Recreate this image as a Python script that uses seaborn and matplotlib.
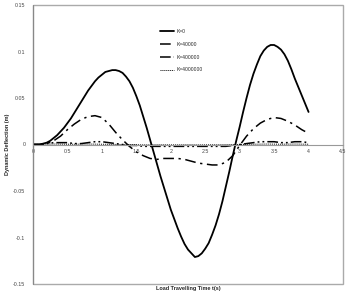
import matplotlib
matplotlib.use("Agg")
import matplotlib.pyplot as plt
import numpy as np
import pandas as pd
import seaborn as sns
from matplotlib.patches import Rectangle

# K=0 is read at a finer step (it has the big swings)
t_k0 = [0.00, 0.05, 0.10, 0.15, 0.20, 0.25, 0.30, 0.35, 0.40, 0.45,
        0.50, 0.55, 0.60, 0.65, 0.70, 0.75, 0.80, 0.85, 0.90, 0.95,
        1.00, 1.05, 1.10, 1.15, 1.20, 1.25, 1.30, 1.35, 1.40, 1.45,
        1.50, 1.55, 1.60, 1.65, 1.70, 1.75, 1.80, 1.85, 1.90, 1.95,
        2.00, 2.05, 2.10, 2.15, 2.20, 2.25, 2.30, 2.35, 2.40, 2.45,
        2.50, 2.55, 2.60, 2.65, 2.70, 2.75, 2.80, 2.85, 2.90, 2.95,
        3.00, 3.05, 3.10, 3.15, 3.20, 3.25, 3.30, 3.35, 3.40, 3.45,
        3.50, 3.55, 3.60, 3.65, 3.70, 3.75, 3.80, 3.85, 3.90, 3.95, 4.00]
k0 = [0.000, 0.000, 0.000, 0.001, 0.002, 0.004, 0.007, 0.010, 0.014, 0.018,
      0.023, 0.028, 0.034, 0.040, 0.046, 0.052, 0.058, 0.063, 0.068, 0.072,
      0.075, 0.078, 0.079, 0.080, 0.080, 0.079, 0.077, 0.073, 0.068, 0.061,
      0.052, 0.042, 0.030, 0.018, 0.005, -0.008, -0.021, -0.034, -0.046, -0.058,
      -0.070, -0.080, -0.090, -0.099, -0.107, -0.113, -0.117, -0.121, -0.120, -0.117,
      -0.112, -0.106, -0.097, -0.087, -0.075, -0.061, -0.045, -0.029, -0.012, 0.004,
      0.019, 0.035, 0.050, 0.064, 0.076, 0.086, 0.095, 0.101, 0.105, 0.107,
      0.107, 0.105, 0.102, 0.097, 0.090, 0.081, 0.071, 0.062, 0.053, 0.044, 0.035]

# the stiffer cases, read every 0.1 s
t = [0.0, 0.1, 0.2, 0.3, 0.4, 0.5, 0.6, 0.7, 0.8, 0.9,
     1.0, 1.1, 1.2, 1.3, 1.4, 1.5, 1.6, 1.7, 1.8, 1.9,
     2.0, 2.1, 2.2, 2.3, 2.4, 2.5, 2.6, 2.7, 2.8, 2.9,
     3.0, 3.1, 3.2, 3.3, 3.4, 3.5, 3.6, 3.7, 3.8, 3.9, 4.0]
k40000 = [0.000, 0.000, 0.001, 0.004, 0.009, 0.016, 0.022, 0.027, 0.030, 0.031,
          0.029, 0.022, 0.013, 0.005, -0.002, -0.008, -0.012, -0.015, -0.016, -0.015,
          -0.015, -0.015, -0.016, -0.018, -0.020, -0.021, -0.022, -0.022, -0.019, -0.012,
          -0.001, 0.009, 0.017, 0.023, 0.027, 0.029, 0.028, 0.025, 0.021, 0.016, 0.012]
k400000 = [0.000, 0.000, 0.001, 0.002, 0.002, 0.002, 0.001, 0.001, 0.002, 0.003,
           0.003, 0.002, 0.001, 0.000, -0.001, -0.001, -0.002, -0.002, -0.002, -0.002,
           -0.002, -0.002, -0.002, -0.002, -0.002, -0.002, -0.002, -0.002, -0.002, -0.001,
           0.000, 0.001, 0.002, 0.003, 0.003, 0.003, 0.002, 0.002, 0.003, 0.003, 0.002]
k4000000 = [0.0000, 0.0002, 0.0004, 0.0005, 0.0004, 0.0003, 0.0003, 0.0004, 0.0005, 0.0004,
            0.0003, 0.0002, 0.0001, 0.0000, -0.0002, -0.0003, -0.0004, -0.0004, -0.0003, -0.0003,
            -0.0004, -0.0004, -0.0003, -0.0003, -0.0004, -0.0004, -0.0003, -0.0003, -0.0002, -0.0001,
            0.0000, 0.0002, 0.0003, 0.0004, 0.0005, 0.0004, 0.0003, 0.0004, 0.0005, 0.0004, 0.0003]

labels = ["K=0", "K=40000", "K=400000", "K=4000000"]
times = [t_k0, t, t, t]
series = [k0, k40000, k400000, k4000000]

x_ticks = [0, 0.5, 1, 1.5, 2, 2.5, 3, 3.5, 4, 4.5]
x_tick_labels = ["0", "0.5", "1", "1.5", "2", "2.5", "3", "3.5", "4", "4.5"]
y_ticks = [-0.15, -0.1, -0.05, 0, 0.05, 0.1, 0.15]
y_tick_labels = ["-0.15", "-0.1", "-0.05", "0", "0.05", "0.1", "0.15"]

df = pd.concat([pd.DataFrame({"t": tt, "w": s, "K": lab})
                for lab, tt, s in zip(labels, times, series)])

sns.set_style("white")
plt.rcParams["font.family"] = ["Liberation Sans", "DejaVu Sans"]

fig = plt.figure(figsize=(3.49, 2.93), dpi=100)
ax = fig.add_axes([33 / 349, 1 - 284 / 293, 310 / 349, 279 / 293])

dashes = {"K=0": "", "K=40000": (7, 3, 1.5, 3), "K=400000": (7, 2, 1.2, 2, 1.2, 2), "K=4000000": (1, 1)}
sns.lineplot(data=df, x="t", y="w", hue="K", style="K", dashes=dashes,
             palette=["black"] * 4, ax=ax, legend=True)

widths = [1.3, 1.1, 1.1, 0.7]
for ln, lw in zip(ax.lines[:4], widths):
    ln.set_linewidth(lw)

ax.set_xlim(0, 4.5)
ax.set_ylim(-0.15, 0.15)
ax.set_xticks(x_ticks)
ax.set_xticklabels(x_tick_labels)
ax.set_yticks(y_ticks)
ax.set_yticklabels(y_tick_labels)

# horizontal axis crosses at zero, gray frame around the plot area
for side in ["top", "right", "left"]:
    ax.spines[side].set_visible(False)
ax.spines["bottom"].set_position(("data", 0))
ax.spines["bottom"].set_color("#999999")
ax.spines["bottom"].set_linewidth(0.8)
ax.add_patch(Rectangle((0, 0), 1, 1, transform=ax.transAxes, fill=False,
                       edgecolor="#aaaaaa", linewidth=1.0, clip_on=False, zorder=0))
ax.plot([0, 0], [0, 1], transform=ax.transAxes, color="#888888", lw=0.8, clip_on=False)

ax.tick_params(axis="both", labelsize=3.8, colors="#444444", length=2, width=0.5, pad=3.5)
ax.tick_params(axis="x", direction="inout", length=2, pad=2)

ax.set_xlabel("Load Travelling Time t(s)", fontsize=4, fontweight="bold")
ax.set_ylabel("Dynamic Deflection (m)", fontsize=4, fontweight="bold", labelpad=2)
ax.xaxis.set_label_coords(0.5, -0.007)

leg = ax.legend(loc="upper left", bbox_to_anchor=(0.395, 0.93), frameon=False,
                fontsize=3.6, handlelength=2.9, labelspacing=1.55, handletextpad=0.5)
for ln, lw in zip(leg.get_lines(), widths):
    ln.set_linewidth(lw)

fig.savefig("out.png", dpi=100)
